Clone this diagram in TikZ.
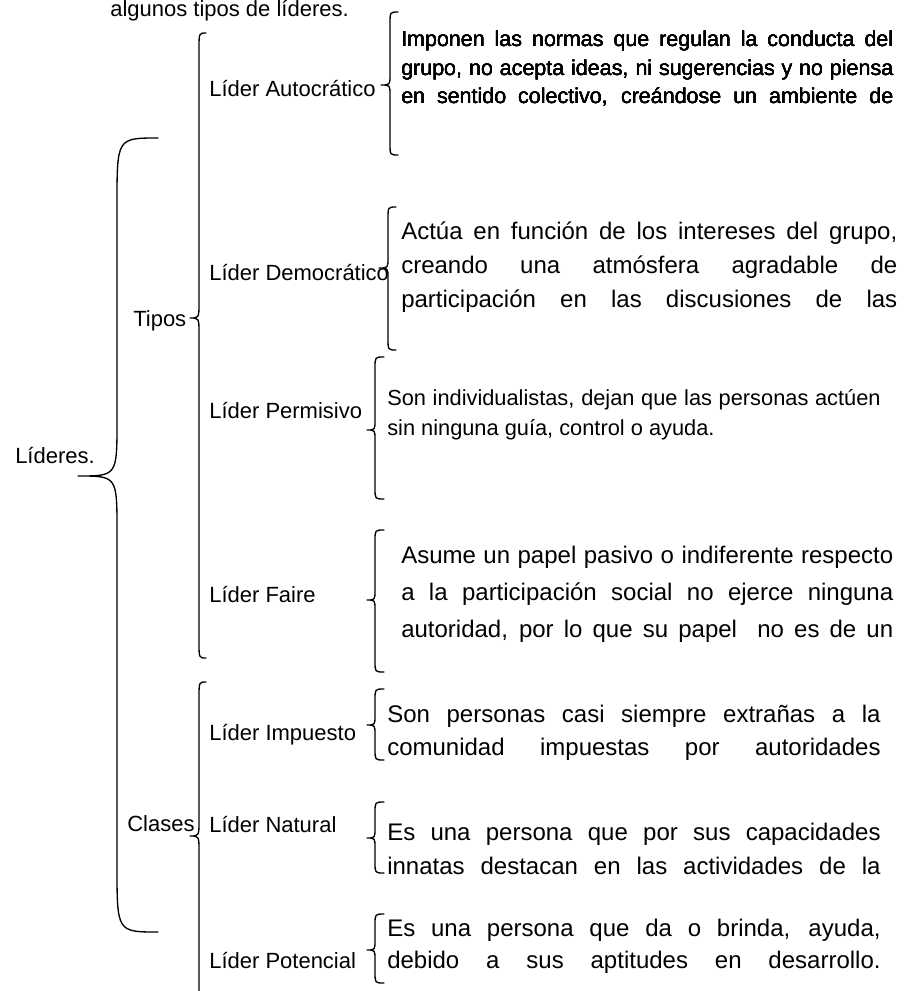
\documentclass[tikz,border=0pt]{standalone}
\usepackage{fontspec}
\setmainfont{Liberation Sans}
\newcommand\jl[1]{\makebox[\linewidth][s]{#1}}
% llave: x del lomo, arriba, punta, abajo, ancho extremos, ancho punta, radio extremos, radio punta
\newcommand\llave[8]{\draw[brace] (#1+#5,#2) .. controls (#1,#2) .. (#1,#2+#7) -- (#1,#3-#8)
  .. controls (#1,#3) .. (#1-#6,#3) .. controls (#1,#3) .. (#1,#3+#8) -- (#1,#4-#7)
  .. controls (#1,#4) .. (#1+#5,#4);}
\begin{document}
\begin{tikzpicture}[x=0.75pt,y=-0.75pt,line cap=round,line join=round,
  brace/.style={line width=1pt},
  lbl/.style={anchor=base west,inner sep=0pt,font=\fontsize{16.5}{20}\selectfont},
  txt/.style={anchor=base west,inner sep=0pt}]
\useasboundingbox (0,0) rectangle (912,991);
\node[lbl] (head) at (110,17) {algunos tipos de líderes.};
\node[lbl] (lideres) at (15,463) {Líderes.};
\node[lbl] (tipos) at (133,326) {Tipos};
\node[lbl] (clases) at (127,831) {Clases};
\foreach \n/\t/\y in {auto/Autocrático/97,demo/Democrático/280,perm/Permisivo/418,faire/Faire/602,imp/Impuesto/740,nat/Natural/832,pot/Potencial/968}
  \node[lbl] (\n) at (209,\y) {Líder \t};
% llaves grandes
\llave{117}{138}{476}{932}{41}{39}{66}{55}
\llave{199}{33}{318}{658}{7}{9}{16}{15}
\llave{199}{682}{836}{1010}{7}{9}{16}{15}
% llaves de los textos
\llave{390}{12}{85}{155}{8}{9}{12}{10}
\llave{388}{207}{268}{350}{8}{9}{12}{10}
\foreach \a/\b/\c in {357/430/499,530/600/672,689/725/760,802/838/873,914/950/983}
  \llave{375}{\a}{\b}{\c}{9}{8}{11}{10}
% textos
\node[txt] (tauto) at (401,47) {\parbox[t]{369pt}{\fontsize{16.1}{21.2}\selectfont
  \jl{Imponen las normas que regulan la conducta del}\\
  \jl{grupo, no acepta ideas, ni sugerencias y no piensa}\\
  \jl{en sentido colectivo, creándose un ambiente de}}};
\node[txt] (tdemo) at (401,239) {\parbox[t]{372pt}{\fontsize{18}{25.5}\selectfont
  \jl{Actúa en función de los intereses del grupo,}\\
  \jl{creando una atmósfera agradable de}\\
  \jl{participación en las discusiones de las}}};
\node[txt] (tperm) at (387,405) {\parbox[t]{370pt}{\fontsize{16.35}{22.5}\selectfont
  \jl{Son individualistas, dejan que las personas actúen}\\
  sin ninguna guía, control o ayuda.}};
\node[txt] (tfaire) at (401,563) {\parbox[t]{369pt}{\fontsize{18}{27.75}\selectfont
  \jl{Asume un papel pasivo o indiferente respecto}\\
  \jl{a la participación social no ejerce ninguna}\\
  \jl{autoridad, por lo que su papel\ \ no es de un}}};
\node[txt] (timp) at (387,722) {\parbox[t]{370pt}{\fontsize{18}{24.75}\selectfont
  \jl{Son personas casi siempre extrañas a la}\\
  \jl{comunidad impuestas por autoridades}}};
\node[txt] (tnat) at (387,840) {\parbox[t]{370pt}{\fontsize{18}{25.5}\selectfont
  \jl{Es una persona que por sus capacidades}\\
  \jl{innatas destacan en las actividades de la}}};
\node[txt] (tpot) at (387,936) {\parbox[t]{370pt}{\fontsize{18}{24}\selectfont
  \jl{Es una persona que da o brinda, ayuda,}\\
  \jl{debido a sus aptitudes en desarrollo.}}};
\end{tikzpicture}
\end{document}
